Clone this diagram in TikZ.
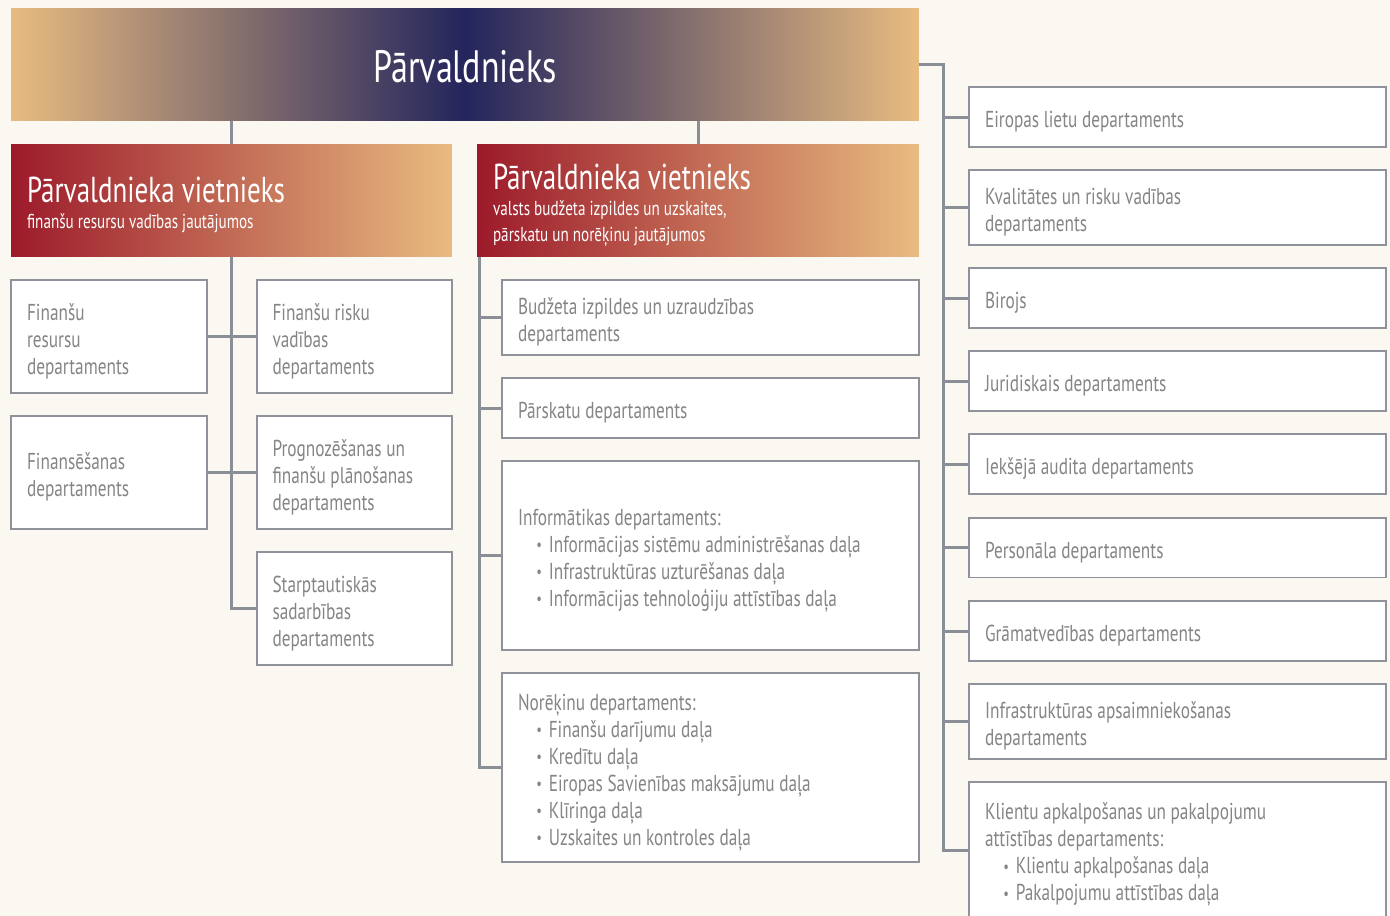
\documentclass[tikz,border=0pt]{standalone}
\usepackage{fontspec}
\setmainfont{PT Sans}[FakeStretch=0.75]
\usetikzlibrary{positioning, calc}

\definecolor{bgcream}{HTML}{FBF8F1}
\definecolor{navyblue}{HTML}{24255C}
\definecolor{sandtan}{HTML}{E8BB80}
\definecolor{deeprose}{HTML}{9C1A2A}
\definecolor{linegray}{HTML}{8A8E97}
\definecolor{boxgray}{HTML}{8F929A}
\definecolor{txtgray}{HTML}{858585}

% bullet line inside a department box
\newcommand{\dala}[1]{\\\hspace*{10.5pt}\makebox[7pt][l]{\raisebox{1pt}{\fontsize{9.5}{9.5}\selectfont\textbullet}}#1}

\begin{document}
\begin{tikzpicture}[
    x=0.02cm, y=-0.02cm,
    % --- STYLES ---
    chief/.style={
            rectangle,
            left color=sandtan,
            right color=sandtan,
            middle color=navyblue,
            minimum width=18.16cm,
            minimum height=2.26cm,
            text=white,
            font=\fontsize{25.8}{30}\selectfont
        },
    deputy/.style={
            rectangle,
            left color=deeprose,
            right color=sandtan,
            minimum height=2.26cm,
            inner xsep=0.32cm,
            align=flush left,
            text=white,
            execute at begin node={\rule{0pt}{20pt}},
            font=\fontsize{11.5}{14.8}\selectfont
        },
    dept/.style={
            rectangle,
            draw=boxgray,
            line width=0.04cm,
            fill=white,
            inner xsep=0.32cm,
            inner ysep=0pt,
            align=flush left,
            text=txtgray,
            execute at begin node={\rule{0pt}{15pt}},
            font=\fontsize{13.1}{15.4}\selectfont
        },
    wide/.style={minimum width=8.34cm, text width=7.7cm},
    narrow/.style={minimum width=3.92cm, text width=3.28cm},
    link/.style={
            draw=linegray,
            line width=0.06cm
        }
    ]

    \useasboundingbox (0,0) rectangle (1390,916);
    \clip (0,0) rectangle (1390,916);
    \fill[bgcream] (0,0) rectangle (1390,916);

    % --- TOP ---
    \node[chief] (top) at (465,64.5) {\raisebox{-1.3pt}[\height][\depth]{Pārvaldnieks}};

    % --- DEPUTIES ---
    \node[deputy, minimum width=8.82cm, text width=8.18cm] (dl) at (231.5,200.5)
    {{\fontsize{20.5}{24}\selectfont Pārvaldnieka vietnieks}\\
        finanšu resursu vadības jautājumos};
    \node[deputy, minimum width=8.84cm, text width=8.2cm] (dr) at (698,200.5)
    {{\fontsize{20.5}{24}\selectfont Pārvaldnieka vietnieks}\\
        valsts budžeta izpildes un uzskaites,\\
        pārskatu un norēķinu jautājumos};

    % --- LEFT COLUMN ---
    \node[dept, narrow, minimum height=2.26cm] (fres) at (109,336.5)
    {Finanšu\\resursu\\departaments};
    \node[dept, narrow, minimum height=2.26cm] (frisk) at (354.5,336.5)
    {Finanšu risku\\vadības\\departaments};
    \node[dept, narrow, minimum height=2.26cm] (finans) at (109,472.5)
    {Finansēšanas\\departaments};
    \node[dept, narrow, minimum height=2.26cm] (progn) at (354.5,472.5)
    {Prognozēšanas un\\finanšu plānošanas\\departaments};
    \node[dept, narrow, minimum height=2.26cm] (starp) at (354.5,608.5)
    {Starptautiskās\\sadarbības\\departaments};

    % --- MIDDLE COLUMN ---
    \node[dept, wide, minimum height=1.5cm] (budz) at (710.5,317.5)
    {Budžeta izpildes un uzraudzības\\departaments};
    \node[dept, wide, minimum height=1.2cm] (parsk) at (710.5,408)
    {Pārskatu departaments};
    \node[dept, wide, minimum height=3.78cm] (inform) at (710.5,555.5)
    {Informātikas departaments:
        \dala{Informācijas sistēmu administrēšanas daļa}
        \dala{Infrastruktūras uzturēšanas daļa}
        \dala{Informācijas tehnoloģiju attīstības daļa}};
    \node[dept, wide, minimum height=3.78cm] (noreki) at (710.5,767.5)
    {Norēķinu departaments:
        \dala{Finanšu darījumu daļa}
        \dala{Kredītu daļa}
        \dala{Eiropas Savienības maksājumu daļa}
        \dala{Klīringa daļa}
        \dala{Uzskaites un kontroles daļa}};

    % --- RIGHT COLUMN ---
    \node[dept, wide, minimum height=1.2cm] (eir) at (1177.5,117)
    {Eiropas lietu departaments};
    \node[dept, wide, minimum height=1.5cm] (kval) at (1177.5,207.5)
    {Kvalitātes un risku vadības\\departaments};
    \node[dept, wide, minimum height=1.2cm] (biro) at (1177.5,298)
    {Birojs};
    \node[dept, wide, minimum height=1.2cm] (jur) at (1177.5,381)
    {Juridiskais departaments};
    \node[dept, wide, minimum height=1.2cm] (iaud) at (1177.5,464)
    {Iekšējā audita departaments};
    \node[dept, wide, minimum height=1.2cm] (pers) at (1177.5,547.5)
    {Personāla departaments};
    \node[dept, wide, minimum height=1.2cm] (gram) at (1177.5,631)
    {Grāmatvedības departaments};
    \node[dept, wide, minimum height=1.5cm] (infr) at (1177.5,721.5)
    {Infrastruktūras apsaimniekošanas\\departaments};
    \node[dept, wide, minimum height=2.72cm] (klient) at (1177.5,850)
    {Klientu apkalpošanas un pakalpojumu\\attīstības departaments:
        \dala{Klientu apkalpošanas daļa}
        \dala{Pakalpojumu attīstības daļa}};

    % --- CONNECTORS ---
    \draw[link] (dl.north) -- (dl.north |- top.south);
    \draw[link] (dr.north) -- (dr.north |- top.south);

    % left branch
    \draw[link] (dl.south) |- (starp.west);
    \draw[link] (fres.east) -- (frisk.west);
    \draw[link] (finans.east) -- (progn.west);

    % middle branch
    \coordinate (mtrunk) at ([xshift=0.06cm]dr.south west);
    \draw[link] (mtrunk) |- (noreki.west);
    \foreach \n in {budz, parsk, inform}
    \draw[link] (\n.west) -- (\n.west -| mtrunk);

    % right branch
    \coordinate (rtrunk) at ([xshift=-0.5cm]eir.west);
    \draw[link] (top.east) -| (rtrunk |- klient.west) -- (klient.west);
    \foreach \n in {eir, kval, biro, jur, iaud, pers, gram, infr}
    \draw[link] (\n.west) -- (\n.west -| rtrunk);

\end{tikzpicture}
\end{document}
